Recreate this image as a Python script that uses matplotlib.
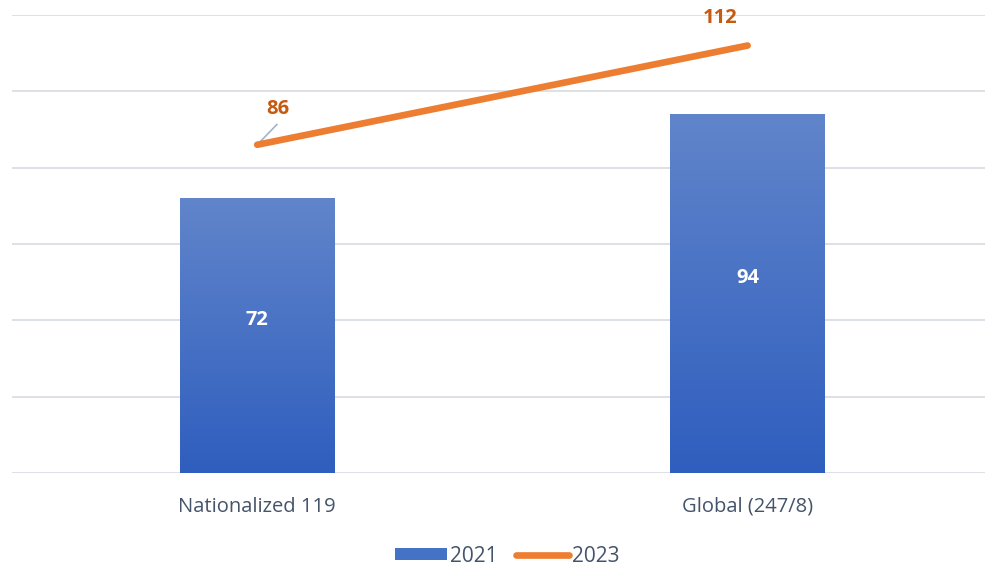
import matplotlib
matplotlib.use("Agg")
import matplotlib.pyplot as plt
import numpy as np
from matplotlib.colors import LinearSegmentedColormap
from matplotlib.patches import Rectangle
from matplotlib.lines import Line2D

categories = ["Nationalized 119", "Global (247/8)"]
values_2021 = [72, 94]
values_2023 = [86, 112]
series_names = ["2021", "2023"]

plt.rcParams['font.family'] = ['Open Sans', 'DejaVu Sans']

fig = plt.figure(figsize=(9.85, 5.7), dpi=100)
ax = fig.add_axes([12/985, 97/570, 973/985, 458/570])
ax.set_xlim(-0.5, 1.484)
ax.set_ylim(0, 120)

x = np.arange(len(categories))
grid_color = "#DDE1E6"
for yv in range(20, 121, 20):
    ax.axhline(yv, color=grid_color, lw=1.4, zorder=0)
ax.axhline(0, color=grid_color, lw=1.4, zorder=0)

bar_w = 0.316
bars = ax.bar(x, values_2021, width=bar_w, color="none", zorder=2)
cmap = LinearSegmentedColormap.from_list("g", ["#2F5EBE", "#6185CB"])
grad = np.linspace(0, 1, 256).reshape(-1, 1)
for b in bars:
    x0, y0 = b.get_x(), b.get_y()
    w, h = b.get_width(), b.get_height()
    im = ax.imshow(grad, cmap=cmap, origin="lower", aspect="auto",
                   extent=[x0, x0 + w, y0, y0 + h], zorder=2)
    rect = Rectangle((x0, y0), w, h, transform=ax.transData)
    im.set_clip_path(rect)

for xi, v in zip(x, values_2021):
    ax.text(xi, v / 2 + 4, str(v), ha="center", va="center", color="white",
            fontsize=14.5, fontweight="bold", zorder=4)

ax.plot(x, values_2023, color="#ED7D31", lw=4.8, solid_capstyle="round", zorder=3)

# data labels for line
ax.plot([x[0], x[0] + 0.04], [values_2023[0], values_2023[0] + 5.3],
        color="#A6B4C8", lw=1.2, zorder=2.5)
ax.text(x[0] + 0.042, values_2023[0] + 9.3, str(values_2023[0]), ha="center", va="center",
        color="#C55A11", fontsize=14.5, fontweight="bold", zorder=4)
ax.text(x[1] - 0.057, values_2023[1] + 7.3, str(values_2023[1]), ha="center", va="center",
        color="#C55A11", fontsize=14.5, fontweight="bold", zorder=4)

ax.set_xticks(x)
ax.set_xticklabels(categories, fontsize=14.5, color="#44546A")
ax.tick_params(axis="x", length=0, pad=17)
ax.set_yticks([])
for s in ax.spines.values():
    s.set_visible(False)

handles = [Rectangle((0, 0), 1, 1, facecolor="#4472C4"),
           Line2D([0], [0], color="#ED7D31", lw=4.8, solid_capstyle="round")]
fig.legend(handles, series_names, loc="center", bbox_to_anchor=(507/985, 1 - 556/570),
           ncol=2, frameon=False, fontsize=15, labelcolor="#44546A",
           handlelength=2.5, handleheight=0.5, handletextpad=0.15, columnspacing=0.9)

fig.savefig("out.png", dpi=100)
